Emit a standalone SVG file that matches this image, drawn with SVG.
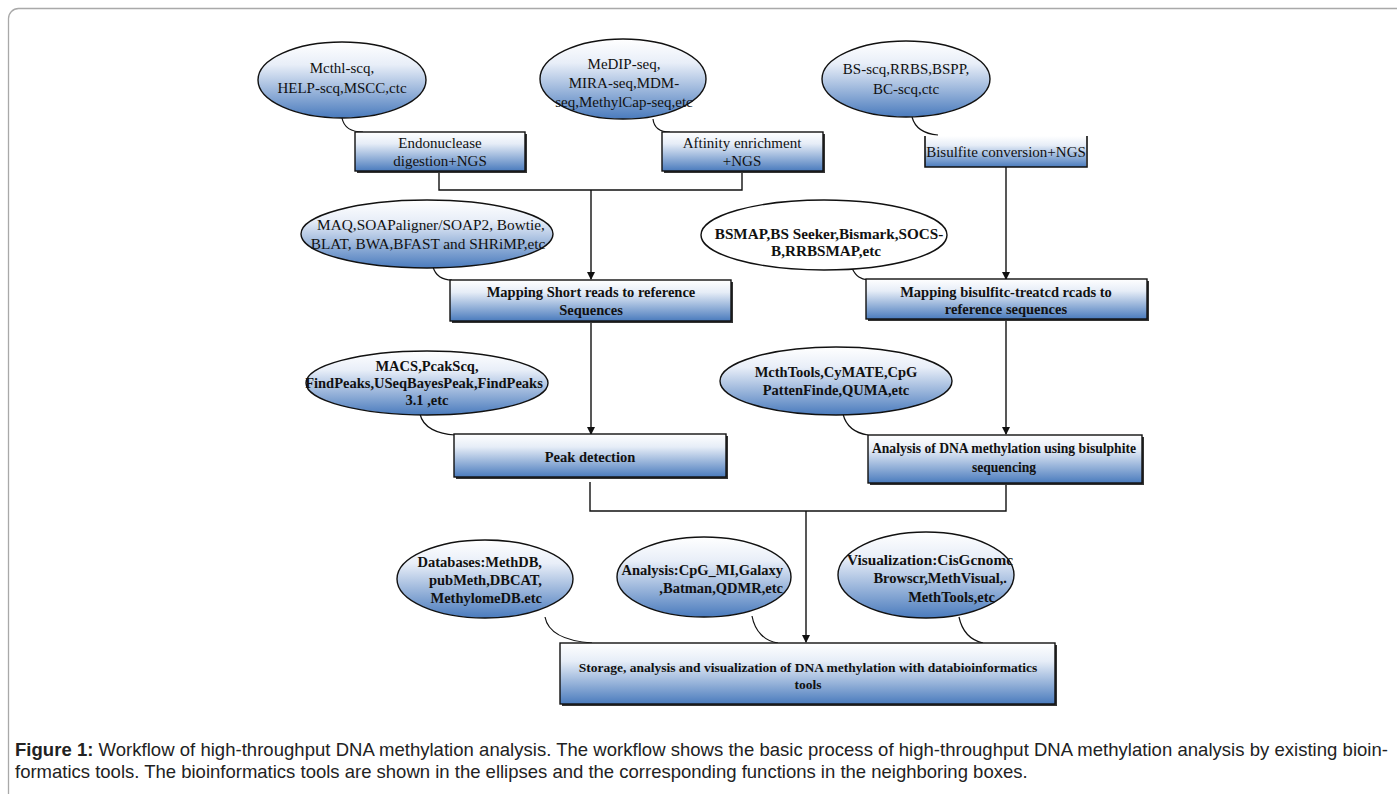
<svg xmlns="http://www.w3.org/2000/svg" width="1397" height="794" viewBox="0 0 1397 794">
<style>
.t{font-family:"Liberation Serif","Times New Roman",serif;font-size:15px;fill:#111;text-anchor:middle}
.b{font-family:"Liberation Serif","Times New Roman",serif;font-size:14.5px;font-weight:bold;fill:#111;text-anchor:middle}
.e{text-anchor:end}
.el{fill:url(#gE);stroke:#111;stroke-width:1.4}
.elw{fill:#fff;stroke:#111;stroke-width:1.4}
.bx{fill:url(#gB);stroke:#111;stroke-width:1.4}
.sh{fill:#333}
.ln{fill:none;stroke:#111;stroke-width:1.4}
.cv{fill:none;stroke:#111;stroke-width:1.2}
.cap{font-family:"Liberation Sans",Arial,sans-serif;font-size:18.5px;fill:#222}
</style>
<defs>
<linearGradient id="gE" x1="0" y1="0" x2="0" y2="1">
<stop offset="0" stop-color="#ffffff"/>
<stop offset="0.3" stop-color="#e8eef8"/>
<stop offset="1" stop-color="#4a7bbd"/>
</linearGradient>
<linearGradient id="gB" x1="0" y1="0" x2="0" y2="1">
<stop offset="0" stop-color="#ffffff"/>
<stop offset="0.3" stop-color="#e6edf7"/>
<stop offset="1" stop-color="#4a7bbd"/>
</linearGradient>
<marker id="ar" markerUnits="userSpaceOnUse" markerWidth="8" markerHeight="8" refX="7" refY="4" orient="auto">
<path d="M0,0 L8,4 L0,8 z" fill="#111"/>
</marker>
</defs>
<rect x="8.5" y="8.5" width="1400" height="800" rx="10" fill="#fff" stroke="#a9a9a9" stroke-width="1.3"/>

<g id="connectors">
<path class="ln" d="M439,171 V190 H742 V171"/>
<path class="ln" d="M591,190 V279" marker-end="url(#ar)"/>
<path class="ln" d="M1006,167 V279" marker-end="url(#ar)"/>
<path class="ln" d="M591,322 V434" marker-end="url(#ar)"/>
<path class="ln" d="M1006,320 V434" marker-end="url(#ar)"/>
<path class="ln" d="M590,482 V511 H1006 V483"/>
<path class="ln" d="M806,511 V642" marker-end="url(#ar)"/>
<path class="cv" d="M342,118 C344,128 352,132 363,132"/>
<path class="cv" d="M653,119 C654,128 660,132 670,132"/>
<path class="cv" d="M912,117 C915,128 925,134 938,135"/>
<path class="cv" d="M433,267 C436,277 443,280 452,280"/>
<path class="cv" d="M852,268 C856,277 861,279 868,280"/>
<path class="cv" d="M420,414 C423,428 438,434 455,435"/>
<path class="cv" d="M843,414 C846,426 855,433 868,435"/>
<path class="cv" d="M545,617 C548,633 565,641 592,643"/>
<path class="cv" d="M752,616 C755,632 765,641 778,643"/>
<path class="cv" d="M959,617 C962,631 970,640 983,643"/>
</g>

<g id="e1"><ellipse class="el" cx="342" cy="80" rx="84" ry="38"/>
<text class="t" x="342" y="73">Mcthl-scq,</text><text class="t" x="342" y="93">HELP-scq,MSCC,ctc</text></g>
<g id="e2"><ellipse class="el" cx="623" cy="79" rx="83" ry="40"/>
<text class="t" x="624" y="69">MeDIP-seq,</text><text class="t" x="624" y="88">MIRA-seq,MDM-</text><text class="t" x="624" y="107">seq,MethylCap-seq,etc</text></g>
<g id="e3"><ellipse class="el" cx="906" cy="79" rx="84" ry="38"/>
<text class="t" x="906" y="74">BS-scq,RRBS,BSPP,</text><text class="t" x="906" y="94">BC-scq,ctc</text></g>

<g id="b1"><rect class="sh" x="357" y="134" width="170" height="39"/><rect class="bx" x="355" y="132" width="170" height="39"/>
<text class="t" x="440" y="148">Endonuclease</text><text class="t" x="440" y="166">digestion+NGS</text></g>
<g id="b2"><rect class="sh" x="664" y="134" width="161" height="39"/><rect class="bx" x="662" y="132" width="161" height="39"/>
<text class="t" x="742" y="148">Aftinity enrichment</text><text class="t" x="742" y="166">+NGS</text></g>
<g id="b3"><rect x="925" y="136" width="161" height="31" fill="url(#gB)"/>
<path d="M925,136 V167 H1087 V136" fill="none" stroke="#111" stroke-width="1.6"/>
<text class="t" x="1006" y="157">Bisulfite conversion+NGS</text></g>

<g id="e4"><ellipse class="el" cx="427" cy="234" rx="126" ry="34"/>
<text class="t" x="431" y="230" style="font-size:15.3px">MAQ,SOAPaligner/SOAP2, Bowtie,</text><text class="t" x="428" y="249" style="font-size:15.3px">BLAT, BWA,BFAST and SHRiMP,etc</text></g>
<g id="e5"><ellipse class="elw" cx="824" cy="235" rx="123" ry="35"/>
<text class="b" x="829" y="239" style="font-size:15.2px">BSMAP,BS Seeker,Bismark,SOCS-</text><text class="b" x="826" y="256" style="font-size:15.2px">B,RRBSMAP,etc</text></g>

<g id="b4"><rect class="sh" x="452" y="282" width="281" height="41"/><rect class="bx" x="450" y="280" width="281" height="41"/>
<text class="b" x="591" y="297">Mapping Short reads to reference</text><text class="b" x="591" y="315">Sequences</text></g>
<g id="b5"><rect class="sh" x="868" y="281" width="281" height="40"/><rect class="bx" x="866" y="279" width="281" height="40"/>
<text class="b" x="1006" y="297">Mapping bisulfitc-treatcd rcads to</text><text class="b" x="1006" y="314">reference sequences</text></g>

<g id="e6"><ellipse class="el" cx="427" cy="383" rx="121" ry="32"/>
<text class="b" x="427" y="371">MACS,PcakScq,</text><text class="b" x="424" y="388">FindPeaks,USeqBayesPeak,FindPeaks</text><text class="b" x="427" y="405">3.1 ,etc</text></g>
<g id="e7"><ellipse class="el" cx="836" cy="381" rx="116" ry="34"/>
<text class="b" x="836" y="377">McthTools,CyMATE,CpG</text><text class="b" x="836" y="395">PattenFinde,QUMA,etc</text></g>

<g id="b6"><rect class="sh" x="456" y="436" width="272" height="43"/><rect class="bx" x="454" y="434" width="272" height="43"/>
<text class="b" x="590" y="462">Peak detection</text></g>
<g id="b7"><rect class="sh" x="870" y="437" width="274" height="48"/><rect class="bx" x="868" y="435" width="274" height="48"/>
<text class="b" x="1004" y="453" style="font-size:13.6px">Analysis of DNA methylation using bisulphite</text><text class="b" x="1004" y="472" style="font-size:13.6px">sequencing</text></g>

<g id="e8"><ellipse class="el" cx="485" cy="579" rx="88" ry="39"/>
<text class="b e" x="542" y="567">Databases:MethDB,</text><text class="b e" x="542" y="585">pubMeth,DBCAT,</text><text class="b e" x="542" y="603">MethylomeDB.etc</text></g>
<g id="e9"><ellipse class="el" cx="704" cy="577" rx="87" ry="40"/>
<text class="b e" x="783" y="575">Analysis:CpG_MI,Galaxy</text><text class="b e" x="783" y="593">,Batman,QDMR,etc</text></g>
<g id="e10"><ellipse class="el" cx="926" cy="575" rx="88" ry="43"/>
<text class="b e" x="1013" y="565" style="font-size:15.3px">Visualization:CisGcnomc</text><text class="b e" x="1007" y="583">Browscr,MethVisual,.</text><text class="b e" x="995" y="602">MethTools,etc</text></g>

<g id="b8"><rect class="sh" x="562" y="645" width="495" height="61"/><rect class="bx" x="560" y="643" width="495" height="61"/>
<text class="b" x="808" y="672" style="font-size:13.5px">Storage, analysis and visualization of DNA methylation with databioinformatics</text><text class="b" x="808" y="689" style="font-size:13.5px">tools</text></g>

<g id="caption">
<text class="cap" x="15" y="756" textLength="1373" lengthAdjust="spacing"><tspan font-weight="bold">Figure 1:</tspan> Workflow of high-throughput DNA methylation analysis. The workflow shows the basic process of high-throughput DNA methylation analysis by existing bioin-</text>
<text class="cap" x="15" y="778">formatics tools. The bioinformatics tools are shown in the ellipses and the corresponding functions in the neighboring boxes.</text>
</g>
</svg>
